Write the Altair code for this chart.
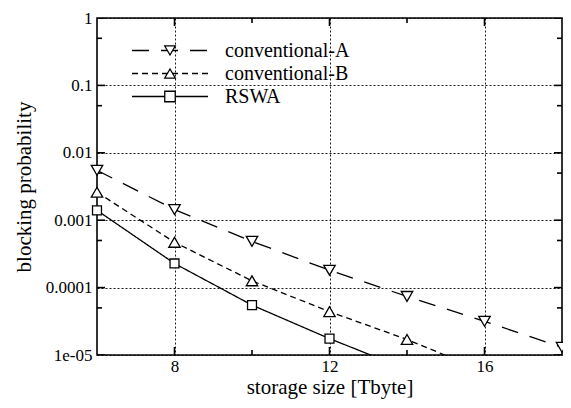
import altair as alt
import pandas as pd

# ---- data ----
x_vals = [6, 8, 10, 12, 14, 16, 18]
conv_a = [0.0055, 0.00144, 0.000485, 0.000181, 7.4e-5, 3.16e-5, 1.3e-5]
conv_b = [0.0026, 0.00047, 0.000126, 4.4e-5, 1.7e-5, 5.7e-6]
rswa = [0.0014, 0.000228, 5.5e-5, 1.75e-5, 6.1e-6]
series_names = ["conventional-A", "conventional-B", "RSWA"]

x_ticks_major = [8, 12, 16]
x_ticks_minor = [10, 14]
y_ticks_major = [1, 0.1, 0.01, 0.001, 0.0001, 0.00001]
y_ticks_minor = [0.5, 0.05, 0.005, 0.0005, 0.00005]

rows = []
for name, vals in zip(series_names, [conv_a, conv_b, rswa]):
    for xv, v in zip(x_vals, vals):
        rows.append({"storage": xv, "p": v, "series": name, "kind": "data"})
for kind, vals in (("xmaj", x_ticks_major), ("xmin", x_ticks_minor)):
    for v in vals:
        rows.append({"storage": v, "p": None, "series": None, "kind": kind})
for kind, vals in (("ymaj", y_ticks_major), ("ymin", y_ticks_minor)):
    for v in vals:
        rows.append({"storage": None, "p": v, "series": None, "kind": kind})
df = pd.DataFrame(rows)

W, H = 465, 337
FONT = "Liberation Serif"

xs = alt.Scale(domain=[6, 18], nice=False, zero=False)
ys = alt.Scale(type="log", domain=[1e-5, 1], nice=False)

y_label_expr = "datum.value < 0.00005 ? '1e-05' : '' + datum.value"

x_axis = alt.Axis(
    values=x_ticks_major, grid=True, ticks=False, tickSize=0, domain=False,
    format="d", title="storage size [Tbyte]", labelFontSize=17,
    titleFontSize=21, labelPadding=3, titlePadding=2)
y_axis = alt.Axis(
    values=y_ticks_major, labelExpr=y_label_expr, grid=True, ticks=False,
    tickSize=0, domain=False, title="blocking probability", labelFontSize=17,
    titleFontSize=21, labelPadding=5, titlePadding=11)

base = alt.Chart(df)
data_rows = base.transform_filter("datum.kind == 'data'")

line_legend = alt.Legend(
    orient="top-left", offset=21, title=None, padding=0,
    symbolType="stroke", symbolSize=76 * 76, symbolStrokeWidth=1.3,
    symbolStrokeColor="black", symbolOffset=13, labelOffset=16,
    clipHeight=23, rowPadding=0,
    labelFont=FONT, labelFontSize=20, labelColor="black",
)

marker_legend = alt.Legend(
    orient="none", legendX=63, legendY=21, title=None, padding=0,
    symbolSize=110, symbolStrokeWidth=1.3, symbolStrokeColor="black",
    symbolFillColor="white", symbolOffset=0, clipHeight=23, rowPadding=0,
    labelFont=FONT, labelFontSize=20, labelExpr="''",
)

lines = data_rows.mark_line(clip=True, color="black", strokeWidth=1.3).encode(
    x=alt.X("storage:Q", scale=xs, axis=x_axis),
    y=alt.Y("p:Q", scale=ys, axis=y_axis),
    strokeDash=alt.StrokeDash("series:N", scale=alt.Scale(
        domain=series_names, range=[[17, 12], [6, 4], [1, 0]]),
        legend=line_legend),
)

points = data_rows.transform_filter("datum.p >= 0.00001").transform_calculate(
    msize="datum.series == 'RSWA' ? 80 : 130"
).mark_point(
    filled=True, strokeWidth=1.3, opacity=1
).encode(
    x=alt.X("storage:Q", scale=xs, axis=x_axis),
    y=alt.Y("p:Q", scale=ys, axis=y_axis),
    shape=alt.Shape("series:N", scale=alt.Scale(
        domain=series_names, range=["triangle-down", "triangle-up", "square"]),
        legend=marker_legend),
    fill=alt.Fill("series:N", scale=alt.Scale(
        domain=series_names, range=["white", "white", "white"]), legend=None),
    stroke=alt.Stroke("series:N", scale=alt.Scale(
        domain=series_names, range=["black", "black", "black"]), legend=None),
    size=alt.Size("msize:Q", scale=None),
)


def x_ticks(kind, length, top):
    return base.transform_filter(f"datum.kind == '{kind}'").mark_tick(
        color="black", thickness=1.6, size=2 * length, orient="vertical",
        clip=True, opacity=1
    ).encode(
        x=alt.X("storage:Q", scale=xs, axis=x_axis),
        y=alt.value(0 if top else H),
    )


def y_ticks(kind, length, right):
    return base.transform_filter(f"datum.kind == '{kind}'").mark_tick(
        color="black", thickness=1.6, size=2 * length, orient="horizontal",
        clip=True, opacity=1
    ).encode(
        y=alt.Y("p:Q", scale=ys, axis=y_axis),
        x=alt.value(W if right else 0),
    )


tick_layers = [
    x_ticks("xmaj", 8, False), x_ticks("xmaj", 8, True),
    x_ticks("xmin", 5, False), x_ticks("xmin", 5, True),
    y_ticks("ymaj", 8, False), y_ticks("ymaj", 8, True),
    y_ticks("ymin", 5, False), y_ticks("ymin", 5, True),
]

chart = alt.layer(lines, *tick_layers, points).resolve_scale(
    shape="independent", strokeDash="independent"
).properties(
    width=W, height=H,
    autosize=alt.AutoSizeParams(type="none"),
    padding={"left": 89, "top": 10, "right": 1, "bottom": 45},
).configure_view(
    stroke="black", strokeWidth=1.6
).configure_axis(
    labelFont=FONT, titleFont=FONT, titleFontWeight="normal",
    labelColor="black", titleColor="black",
    gridColor="black", gridDash=[2, 2], gridWidth=0.9, gridOpacity=1,
)

chart.save("out.html", embed_options={"renderer": "svg", "actions": False})
